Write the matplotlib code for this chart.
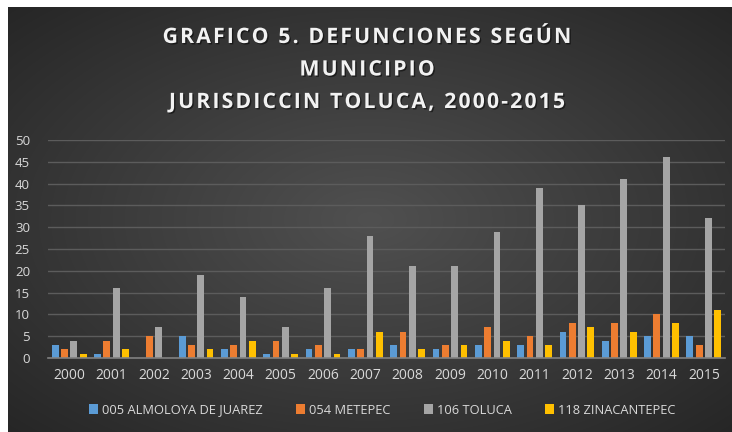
import numpy as np
import matplotlib
matplotlib.use("Agg")
import matplotlib.pyplot as plt
import matplotlib.patheffects as pe

years = ["2000", "2001", "2002", "2003", "2004", "2005", "2006", "2007",
         "2008", "2009", "2010", "2011", "2012", "2013", "2014", "2015"]
almoloya = [3, 1, 0, 5, 2, 1, 2, 2, 3, 2, 3, 3, 6, 4, 5, 5]
metepec = [2, 4, 5, 3, 3, 4, 3, 2, 6, 3, 7, 5, 8, 8, 10, 3]
toluca = [4, 16, 7, 19, 14, 7, 16, 28, 21, 21, 29, 39, 35, 41, 46, 32]
zinacantepec = [1, 2, 0, 2, 4, 1, 1, 6, 2, 3, 4, 3, 7, 6, 8, 11]
series_names = ["005 ALMOLOYA DE JUAREZ", "054 METEPEC", "106 TOLUCA", "118 ZINACANTEPEC"]
colors = ["#5B9BD5", "#ED7D31", "#A5A5A5", "#FFC000"]
yticks = [0, 5, 10, 15, 20, 25, 30, 35, 40, 45, 50]
title_lines = ["GRAFICO 5. DEFUNCIONES SEGÚN", "MUNICIPIO", "JURISDICCIN TOLUCA, 2000-2015"]

W, H = 732, 432
fig = plt.figure(figsize=(W / 100, H / 100), dpi=100)
fig.patch.set_facecolor("white")

# background panel with radial gradient
bx0, by0 = 8 / W, 0
bg = fig.add_axes([bx0, by0, 1 - bx0, (H - 7) / H])
bg.set_axis_off()
yy, xx = np.mgrid[0:1:300j, 0:1:500j]
r = np.sqrt(((xx - 0.5) / 0.75) ** 2 + ((yy - 0.5) / 0.75) ** 2)
inner = np.array([0x50, 0x50, 0x50]) / 255
outer = np.array([0x26, 0x26, 0x26]) / 255
t = np.clip(r / 0.95, 0, 1)[..., None]
img = inner * (1 - t) + outer * t
bg.imshow(img, extent=[0, 1, 0, 1], aspect="auto", interpolation="bilinear")
bg.set_xlim(0, 1)
bg.set_ylim(0, 1)

# plotting axes
left, right = 48 / W, 725 / W
bottom, top = (H - 358) / H, (H - 140) / H
ax = fig.add_axes([left, bottom, right - left, top - bottom])
ax.set_facecolor("none")

x = np.arange(len(years))
step = 0.22
width = 0.16
data = [almoloya, metepec, toluca, zinacantepec]
for i, (vals, c, name) in enumerate(zip(data, colors, series_names)):
    ax.bar(x + (i - 1.5) * step, vals, width=width, color=c, label=name, zorder=3)

ax.set_xlim(-0.5, len(years) - 0.5)
ax.set_ylim(0, 50)
ax.set_yticks(yticks)
ax.set_xticks(x)
ax.set_xticklabels(years)
ax.grid(axis="y", color="#5c5c5c", linewidth=1, zorder=0)
for s in ["top", "right", "left"]:
    ax.spines[s].set_visible(False)
ax.spines["bottom"].set_color("#808080")
ax.spines["bottom"].set_linewidth(1.2)
ax.spines["bottom"].set_zorder(4)
ax.tick_params(axis="x", length=0, colors="#D9D9D9", labelsize=10, pad=7)
ax.tick_params(axis="y", length=0, colors="#D9D9D9", labelsize=9.5, pad=13)
for lab in ax.get_xticklabels() + ax.get_yticklabels():
    lab.set_fontfamily("Open Sans")

hair = "\u200a"
spaced = "\n".join(hair.join(list(line)) for line in title_lines)
fig.text(367 / W, 1 - 70 / H, spaced, ha="center", va="center",
         fontsize=15.3, fontweight="bold", color="#F2F2F2",
         family=["Open Sans", "DejaVu Sans"],
         linespacing=1.72,
         path_effects=[pe.withSimplePatchShadow(offset=(1, -1), shadow_rgbFace="black", alpha=0.5)])

leg = fig.legend(loc="center", bbox_to_anchor=(382 / W, 1 - 410 / H), ncol=4,
                 frameon=False, handlelength=0.7, handleheight=0.7,
                 handletextpad=0.3, columnspacing=2.6,
                 prop={"family": "Open Sans", "size": 9.3})
for txt in leg.get_texts():
    txt.set_color("#D9D9D9")

fig.savefig("out.png", dpi=100)
